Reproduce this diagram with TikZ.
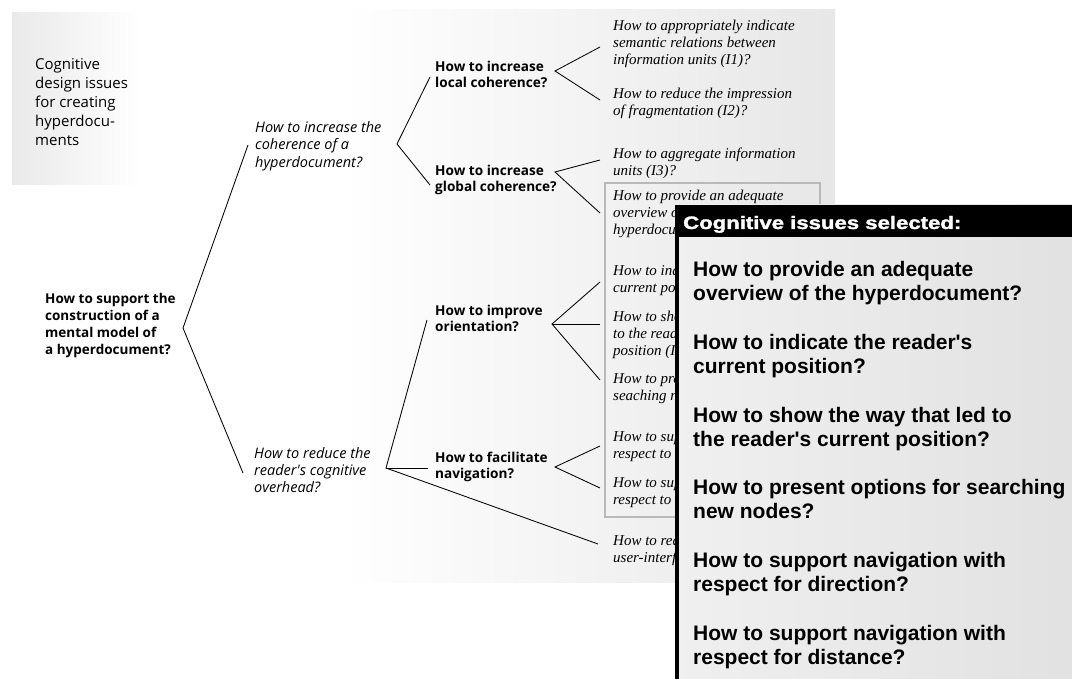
\documentclass[tikz,border=0pt]{standalone}
\usepackage{fontspec}
\usepackage{graphicx}
\setmainfont{Liberation Serif}
\newfontfamily\treesans{Open Sans}
\newfontfamily\boxsans{Liberation Sans}
\newfontfamily\hdrfont[FakeBold=1.6]{Liberation Sans Bold}
\begin{document}
\begin{tikzpicture}[x=1pt,y=-1pt,
  lab/.style={anchor=north west, inner sep=0pt, align=left},
  bsans/.style={lab, font=\treesans\bfseries\fontsize{13.6}{16}\selectfont},
  isans/.style={lab, font=\treesans\itshape\fontsize{14.5}{17.5}\selectfont},
  rsans/.style={lab, font=\treesans\fontsize{15}{19}\selectfont},
  leaf/.style={lab, font=\itshape\fontsize{15}{17}\selectfont},
  item/.style={lab, font=\boxsans\bfseries\fontsize{21}{24}\selectfont},
  conn/.style={line width=0.85pt, black}]
\useasboundingbox (0,0) rectangle (1072,679);
% backgrounds
\shade[left color=white, right color=gray!19] (340,10) rectangle (835,582);
\shade[left color=gray!17, right color=white] (12,13) rectangle (140,185);
\draw[gray!55, line width=2.5pt] (605,183) rectangle (820,517);
% title
\node[rsans] (title) at (35,58.5) {Cognitive\\design issues\\for creating\\hyperdocu-\\ments};
% tree nodes
\node[bsans, font=\treesans\bfseries\fontsize{13.5}{17}\selectfont] (root) at (45,293) {How to support the\\construction of a\\mental model of\\a hyperdocument?};
\node[isans] (coh) at (255,121) {How to increase the\\coherence of a\\hyperdocument?};
\node[isans, font=\treesans\itshape\fontsize{14.5}{17}\selectfont] (red) at (254,447) {How to reduce the\\reader's cognitive\\overhead?};
\node[bsans] (loc) at (435,61) {How to increase\\local coherence?};
\node[bsans] (glo) at (435,164.5) {How to increase\\global coherence?};
\node[bsans] (ori) at (435,304.5) {How to improve\\orientation?};
\node[bsans] (nav) at (435,451.5) {How to facilitate\\navigation?};
% leaves (those under the overlay are cut at its edge)
\node[leaf] (i1) at (613,19.5) {How to appropriately indicate\\semantic relations between\\information units (I1)?};
\node[leaf] (i2) at (613,87.5) {How to reduce the impression\\of fragmentation (I2)?};
\node[leaf] (i3) at (613,147.5) {How to aggregate information\\units (I3)?};
\begin{scope}
\clip (0,0) -- (1072,0) -- (1072,204) -- (676,204) -- (676,679) -- (0,679) -- cycle;
\node[leaf] (i4) at (613,189.5) {How to provide an adequate\\overview of the\\hyperdocument (I4)?};
\node[leaf] (i5) at (613,264.5) {How to indicate the reader's\\current position (I5)?};
\node[leaf] (i6) at (613,310.5) {How to show the way that led\\to the reader's current\\position (I6)?};
\node[leaf] (i7) at (613,372.5) {How to present options for\\seaching new nodes (I7)?};
\node[leaf] (i8) at (613,430.5) {How to support navigation with\\respect to direction (I8)?};
\node[leaf] (i9) at (613,476.5) {How to support navigation with\\respect to distance (I9)?};
\node[leaf] (i10) at (613,534.5) {How to reduce the\\user-interface overhead (I10)?};
\end{scope}
% branch coordinates
\coordinate (R) at (183,328); \coordinate (Ra) at (248,145); \coordinate (Rb) at (243,473);
\coordinate (A) at (397,144); \coordinate (Aa) at (430,77); \coordinate (Ab) at (430,185);
\coordinate (B) at (555,71); \coordinate (B1) at (600,47); \coordinate (B2) at (600,100);
\coordinate (C) at (555,172); \coordinate (C1) at (600,160); \coordinate (C2) at (600,213);
\coordinate (D) at (386,468); \coordinate (Dc) at (427,320); \coordinate (Dd) at (428,468); \coordinate (De) at (598,544);
\coordinate (E) at (552,324); \coordinate (E1) at (600,282); \coordinate (E2) at (600,324); \coordinate (E3) at (600,380);
\coordinate (F) at (555,467); \coordinate (F1) at (600,446); \coordinate (F2) at (600,488);
% connectors
\draw[conn] (Ra) -- (R) -- (Rb);
\draw[conn] (Aa) -- (A) -- (Ab);
\draw[conn] (B1) -- (B) -- (B2);
\draw[conn] (C1) -- (C) -- (C2);
\draw[conn] (Dc) -- (D) -- (De);
\draw[conn] (D) -- (Dd);
\draw[conn] (E1) -- (E) -- (E3);
\draw[conn] (E) -- (E2);
\draw[conn] (F1) -- (F) -- (F2);
% overlay panel
\shade[left color=gray!12, right color=gray!23] (677,205) rectangle (1072,679);
\fill[black] (677,205) rectangle (1072,237);
\draw[black, line width=4pt] (677,205) -- (677,679);
\node[anchor=base west, inner sep=0pt, text=white, font=\hdrfont\fontsize{18}{20}\selectfont] (hdr) at (683,229) {\scalebox{1.23}[1]{Cognitive issues selected:}};
\node[item] (s1) at (693,261) {How to provide an adequate\\overview of the hyperdocument?};
\node[item] (s2) at (693,334) {How to indicate the reader's\\current position?};
\node[item] (s3) at (693,407) {How to show the way that led to\\the reader's current position?};
\node[item] (s4) at (693,479) {How to present options for searching\\new nodes?};
\node[item] (s5) at (693,552) {How to support navigation with\\respect for direction?};
\node[item] (s6) at (693,625) {How to support navigation with\\respect for distance?};
\end{tikzpicture}
\end{document}
